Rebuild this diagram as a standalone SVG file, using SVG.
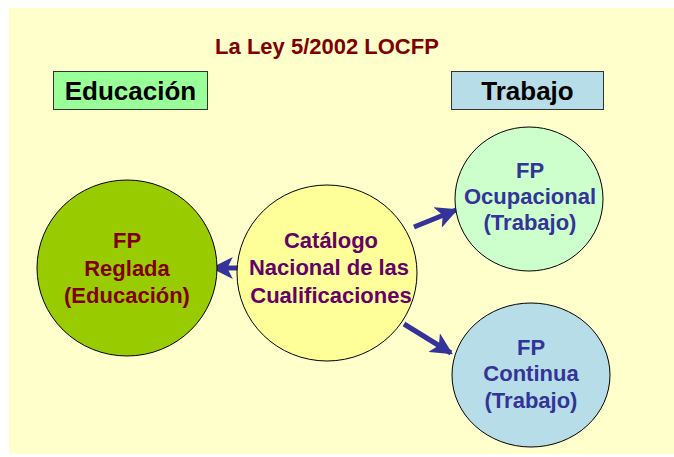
<svg xmlns="http://www.w3.org/2000/svg" width="674" height="457" viewBox="0 0 674 457">
<defs>
<style>
text{font-family:"Liberation Sans",Arial,sans-serif;font-weight:bold;text-anchor:middle}
.t{font-size:22px}
.b{font-size:26px;fill:#000}
.circ{stroke:#000;stroke-width:1}
.red{fill:#800000}
.pur{fill:#660066}
.blu{fill:#333399}
.con{stroke:#333399;stroke-width:5;fill:none;marker-end:url(#ah)}
</style>
<marker id="ah" viewBox="0 0 10 10" refX="9" refY="5" markerWidth="4.4" markerHeight="4.4" orient="auto" markerUnits="strokeWidth">
<path d="M0,0 L10,5 L0,10 L2.5,5 Z" fill="#333399"/>
</marker>
</defs>
<rect x="0" y="0" width="674" height="457" fill="#fff"/>
<rect x="9" y="8" width="665" height="446" fill="#FFFFCC"/>
<text class="t red" x="327" y="54">La Ley 5/2002 LOCFP</text>
<g id="educacion">
<rect x="53.5" y="71.5" width="154" height="38" fill="#99FF99" stroke="#333" stroke-width="1"/>
<text class="b" x="130.5" y="100">Educación</text>
</g>
<g id="trabajo">
<rect x="451.5" y="71.5" width="152" height="38" fill="#B7DEE8" stroke="#333" stroke-width="1"/>
<text class="b" x="527.5" y="100">Trabajo</text>
</g>
<g id="connectors">
<line class="con" x1="241" y1="268" x2="213" y2="268"/>
<line class="con" x1="414" y1="227" x2="456" y2="210"/>
<line class="con" x1="404" y1="324" x2="451" y2="353"/>
</g>
<g id="fp-reglada">
<ellipse class="circ" cx="127" cy="268" rx="90" ry="88" fill="#99CC00"/>
<text class="t red" x="127" y="248">FP</text>
<text class="t red" x="127" y="276">Reglada</text>
<text class="t red" x="127" y="303">(Educación)</text>
</g>
<g id="catalogo">
<ellipse class="circ" cx="327" cy="273" rx="90" ry="88" fill="#FFFF99"/>
<text class="t pur" x="331" y="248">Catálogo</text>
<text class="t pur" x="329" y="275">Nacional de las</text>
<text class="t pur" x="331" y="303">Cualificaciones</text>
</g>
<g id="fp-ocupacional">
<ellipse class="circ" cx="529" cy="199" rx="74" ry="72" fill="#CCFFCC"/>
<text class="t blu" x="530" y="178">FP</text>
<text class="t blu" x="530" y="204">Ocupacional</text>
<text class="t blu" x="530" y="230">(Trabajo)</text>
</g>
<g id="fp-continua">
<ellipse class="circ" cx="531" cy="375" rx="79" ry="72" fill="#B7DEE8"/>
<text class="t blu" x="531" y="355">FP</text>
<text class="t blu" x="531" y="381">Continua</text>
<text class="t blu" x="531" y="408">(Trabajo)</text>
</g>
</svg>
